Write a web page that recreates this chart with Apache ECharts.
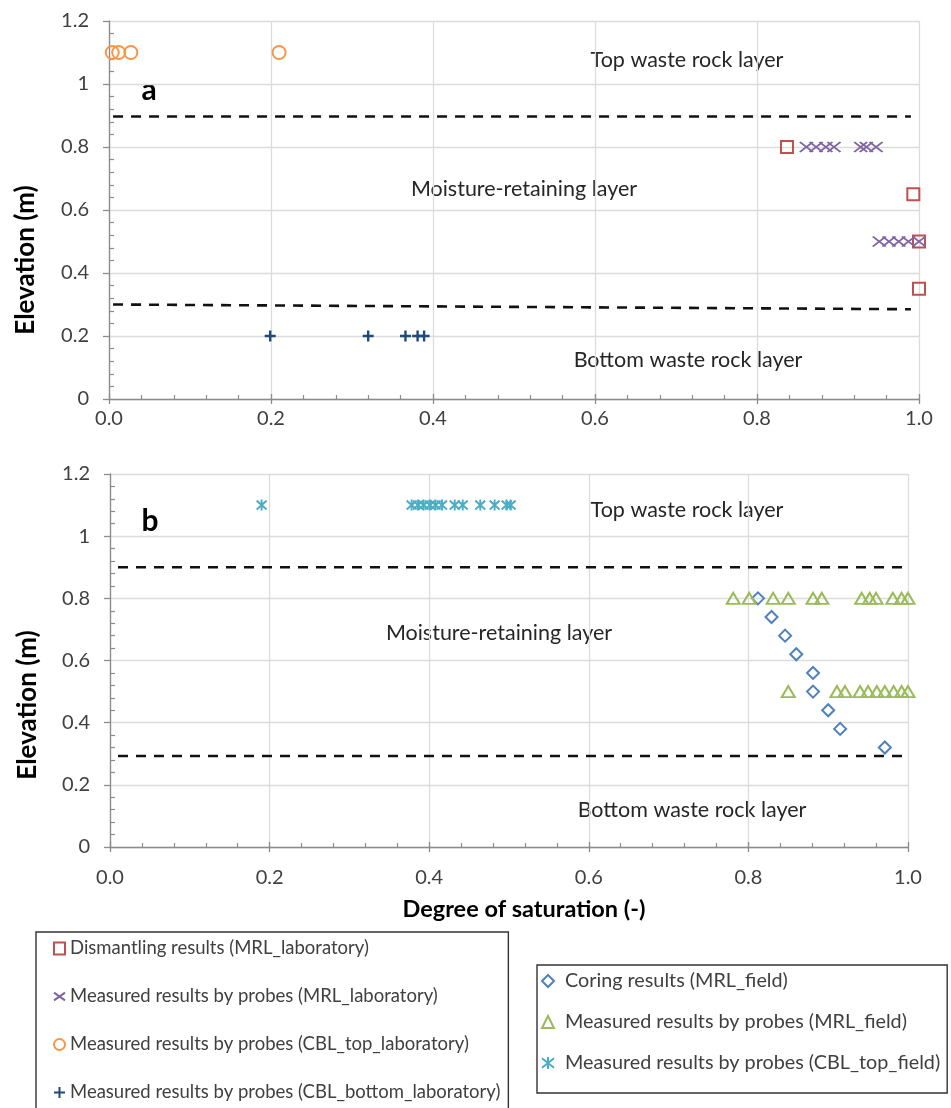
<!DOCTYPE html>
<html><head><meta charset="utf-8">
<script src="https://cdn.jsdelivr.net/npm/echarts@6/dist/echarts.min.js"></script>
<style>html,body{margin:0;padding:0;background:#fff}#c{width:951px;height:1108px}</style>
</head><body><div id="c"></div><script>
// ---------- data (degree of saturation, elevation m) ----------
const dismantlingLab = [[0.837,0.80],[0.993,0.65],[1.0,0.50],[1.0,0.35]];
const probesMrlLab = [[0.861,0.8],[0.873,0.8],[0.885,0.8],[0.895,0.8],[0.928,0.8],[0.935,0.8],[0.947,0.8],
                      [0.951,0.5],[0.963,0.5],[0.975,0.5],[0.987,0.5],[1.0,0.5]];
const probesCblTopLab = [[0.004,1.1],[0.012,1.1],[0.027,1.1],[0.21,1.1]];
const probesCblBottomLab = [[0.199,0.2],[0.32,0.2],[0.366,0.2],[0.381,0.2],[0.389,0.2]];
const coringField = [[0.812,0.80],[0.829,0.74],[0.846,0.68],[0.860,0.62],[0.881,0.56],[0.881,0.50],[0.900,0.44],[0.915,0.38],[0.971,0.32]];
const probesMrlField = [[0.781,0.8],[0.801,0.8],[0.831,0.8],[0.850,0.8],[0.881,0.8],[0.892,0.8],[0.942,0.8],[0.952,0.8],[0.960,0.8],[0.981,0.8],[0.992,0.8],[1.0,0.8],
                        [0.850,0.5],[0.911,0.5],[0.921,0.5],[0.940,0.5],[0.950,0.5],[0.961,0.5],[0.971,0.5],[0.982,0.5],[0.992,0.5],[1.0,0.5]];
const probesCblTopField = [[0.190,1.1],[0.378,1.1],[0.386,1.1],[0.393,1.1],[0.401,1.1],[0.408,1.1],[0.416,1.1],[0.432,1.1],[0.442,1.1],[0.464,1.1],[0.482,1.1],[0.497,1.1],[0.502,1.1]];
const boundaryTopA = [[0.005,0.897],[0.99,0.897]];
const boundaryBottomA = [[0.005,0.300],[0.99,0.285]];
const boundaryTopB = [[0.01,0.900],[1.0,0.900]];
const boundaryBottomB = [[0.01,0.293],[1.0,0.293]];
const xTickLabels = ['0.0','0.2','0.4','0.6','0.8','1.0'];
const yTickLabels = ['0','0.2','0.4','0.6','0.8','1','1.2'];
const labNames = ['Dismantling results (MRL_laboratory)','Measured results by probes (MRL_laboratory)',
                  'Measured results by probes (CBL_top_laboratory)','Measured results by probes (CBL_bottom_laboratory)'];
const fieldNames = ['Coring results (MRL_field)','Measured results by probes (MRL_field)','Measured results by probes (CBL_top_field)'];

// ---------- styling ----------
const FONT = 'Lato';
const AXIS_GRAY = '#8c8c8c';
const GRID_GRAY = '#dcdcdc';
const TXT = '#404040';

function xAxes(g, labelMargin) {
  return [
    { type:'value', gridIndex:g, min:0, max:1, interval:0.2, position:'bottom',
      axisLine:{onZero:false, lineStyle:{color:AXIS_GRAY, width:1.3}},
      axisTick:{show:true, inside:false, length:5, lineStyle:{color:AXIS_GRAY, width:1.3}},
      axisLabel:{margin:labelMargin, color:TXT, fontFamily:FONT, fontSize:20, formatter:(v,i)=>xTickLabels[i]},
      splitLine:{show:true, lineStyle:{color:GRID_GRAY, width:1.3}} },
    { type:'value', gridIndex:g, min:0, max:1, interval:0.2, position:'bottom',
      axisLine:{show:false, onZero:false},
      axisTick:{show:true, inside:true, length:5, lineStyle:{color:AXIS_GRAY, width:1.3}},
      minorTick:{show:true, splitNumber:5, length:4, lineStyle:{color:AXIS_GRAY, width:1.2}},
      axisLabel:{show:false}, splitLine:{show:false} }
  ];
}
function yAxes(g) {
  return [
    { type:'value', gridIndex:g, min:0, max:1.2, interval:0.2, position:'left',
      axisLine:{show:true, onZero:false, lineStyle:{color:AXIS_GRAY, width:1.3}},
      axisTick:{show:true, inside:false, length:6, lineStyle:{color:AXIS_GRAY, width:1.3}},
      axisLabel:{margin:20, color:TXT, fontFamily:FONT, fontSize:20, formatter:(v,i)=>yTickLabels[i]},
      splitLine:{show:true, lineStyle:{color:GRID_GRAY, width:1.3}} },
    { type:'value', gridIndex:g, min:0, max:1.2, interval:0.2, position:'left',
      axisLine:{show:false, onZero:false},
      axisTick:{show:false, inside:true},
      minorTick:{show:true, splitNumber:5, length:5, lineStyle:{color:AXIS_GRAY, width:1.2}},
      axisLabel:{show:false}, splitLine:{show:false} }
  ];
}
function scatter(name, data, g, symbol, size, color, filled, bw) {
  return { type:'scatter', name, data, xAxisIndex:g*2, yAxisIndex:g*2, symbol, symbolSize:size,
    itemStyle:{ color: filled ? color : 'rgba(255,255,255,0)', borderColor:color, borderWidth:bw, opacity:1 },
    emphasis:{disabled:true}, z:3 };
}
function boundary(data, g) {
  return { type:'line', data, xAxisIndex:g*2, yAxisIndex:g*2, symbol:'none', silent:true, z:2,
    lineStyle:{color:'#111', width:2.6, type:[10,8]} };
}
const X_PATH = 'path://M0,0L14,10M14,0L0,10';
const PLUS_PATH = 'path://M5,0L5,10M0,5L10,5';
const STAR_PATH = 'path://M0,1L10,9M10,1L0,9M5,0L5,10';

function txt(text, x, y, size, bold, rot) {
  return { type:'text', x, y, rotation: rot || 0, silent:true,
    style:{ text, fill: bold ? '#000' : '#262626', align:'center', verticalAlign:'middle',
      font: (bold ? 'bold ' : '') + size + 'px ' + FONT } };
}

const option = {
  animation:false,
  backgroundColor:'#fff',
  grid:[
    {left:109, top:21, width:810, height:378, containLabel:false, outerBoundsMode:'none'},
    {left:110, top:474, width:798, height:373, containLabel:false, outerBoundsMode:'none'}
  ],
  xAxis:[...xAxes(0, 10), ...xAxes(1, 21)],
  yAxis:[...yAxes(0), ...yAxes(1)],
  legend:[
    { data:labNames, orient:'vertical', left:36, top:932, height:400, itemGap:29, itemWidth:11, itemHeight:12,
      padding:[7,8,40,17], borderColor:'#333', borderWidth:1.4, selectedMode:false,
      textStyle:{fontFamily:FONT, fontSize:18.5, color:TXT} },
    { data:fieldNames, orient:'vertical', left:537, top:965, height:300, itemGap:21, itemWidth:12, itemHeight:12,
      padding:[6,7,20,4], borderColor:'#333', borderWidth:1.4, selectedMode:false,
      textStyle:{fontFamily:FONT, fontSize:19.8, color:TXT, padding:[0,0,0,6]} }
  ],
  series:[
    boundary(boundaryTopA,0), boundary(boundaryBottomA,0),
    boundary(boundaryTopB,1), boundary(boundaryBottomB,1),
    scatter(labNames[0], dismantlingLab, 0, 'rect', 12, '#c0504d', false, 2),
    scatter(labNames[1], probesMrlLab, 0, X_PATH, [13,10], '#8064a2', true, 2),
    scatter(labNames[2], probesCblTopLab, 0, 'circle', 13, '#f79646', false, 2),
    scatter(labNames[3], probesCblBottomLab, 0, PLUS_PATH, 11, '#1f497d', true, 2.4),
    scatter(fieldNames[0], coringField, 1, 'diamond', 12, '#4f81bd', false, 2),
    scatter(fieldNames[1], probesMrlField, 1, 'triangle', [13,11], '#9bbb59', false, 2),
    scatter(fieldNames[2], probesCblTopField, 1, STAR_PATH, [10,11], '#4bacc6', true, 2)
  ],
  graphic:[
    txt('a', 149, 90, 30, true),
    txt('Top waste rock layer', 687, 60, 21.5, false),
    txt('Moisture-retaining layer', 524, 189, 21.5, false),
    txt('Bottom waste rock layer', 688, 360, 21.5, false),
    txt('b', 150, 521, 30, true),
    txt('Top waste rock layer', 687, 510, 21.5, false),
    txt('Moisture-retaining layer', 499, 633, 21.5, false),
    txt('Bottom waste rock layer', 692, 810, 21.5, false),
    txt('Elevation (m)', 26, 260, 26, true, Math.PI/2),
    txt('Elevation (m)', 28, 705, 26, true, Math.PI/2),
    txt('Degree of saturation (-)', 524, 909, 23.5, true)
  ]
};
const chart = echarts.init(document.getElementById('c'), null, {renderer:'canvas'});
chart.setOption(option);
</script></body></html>
